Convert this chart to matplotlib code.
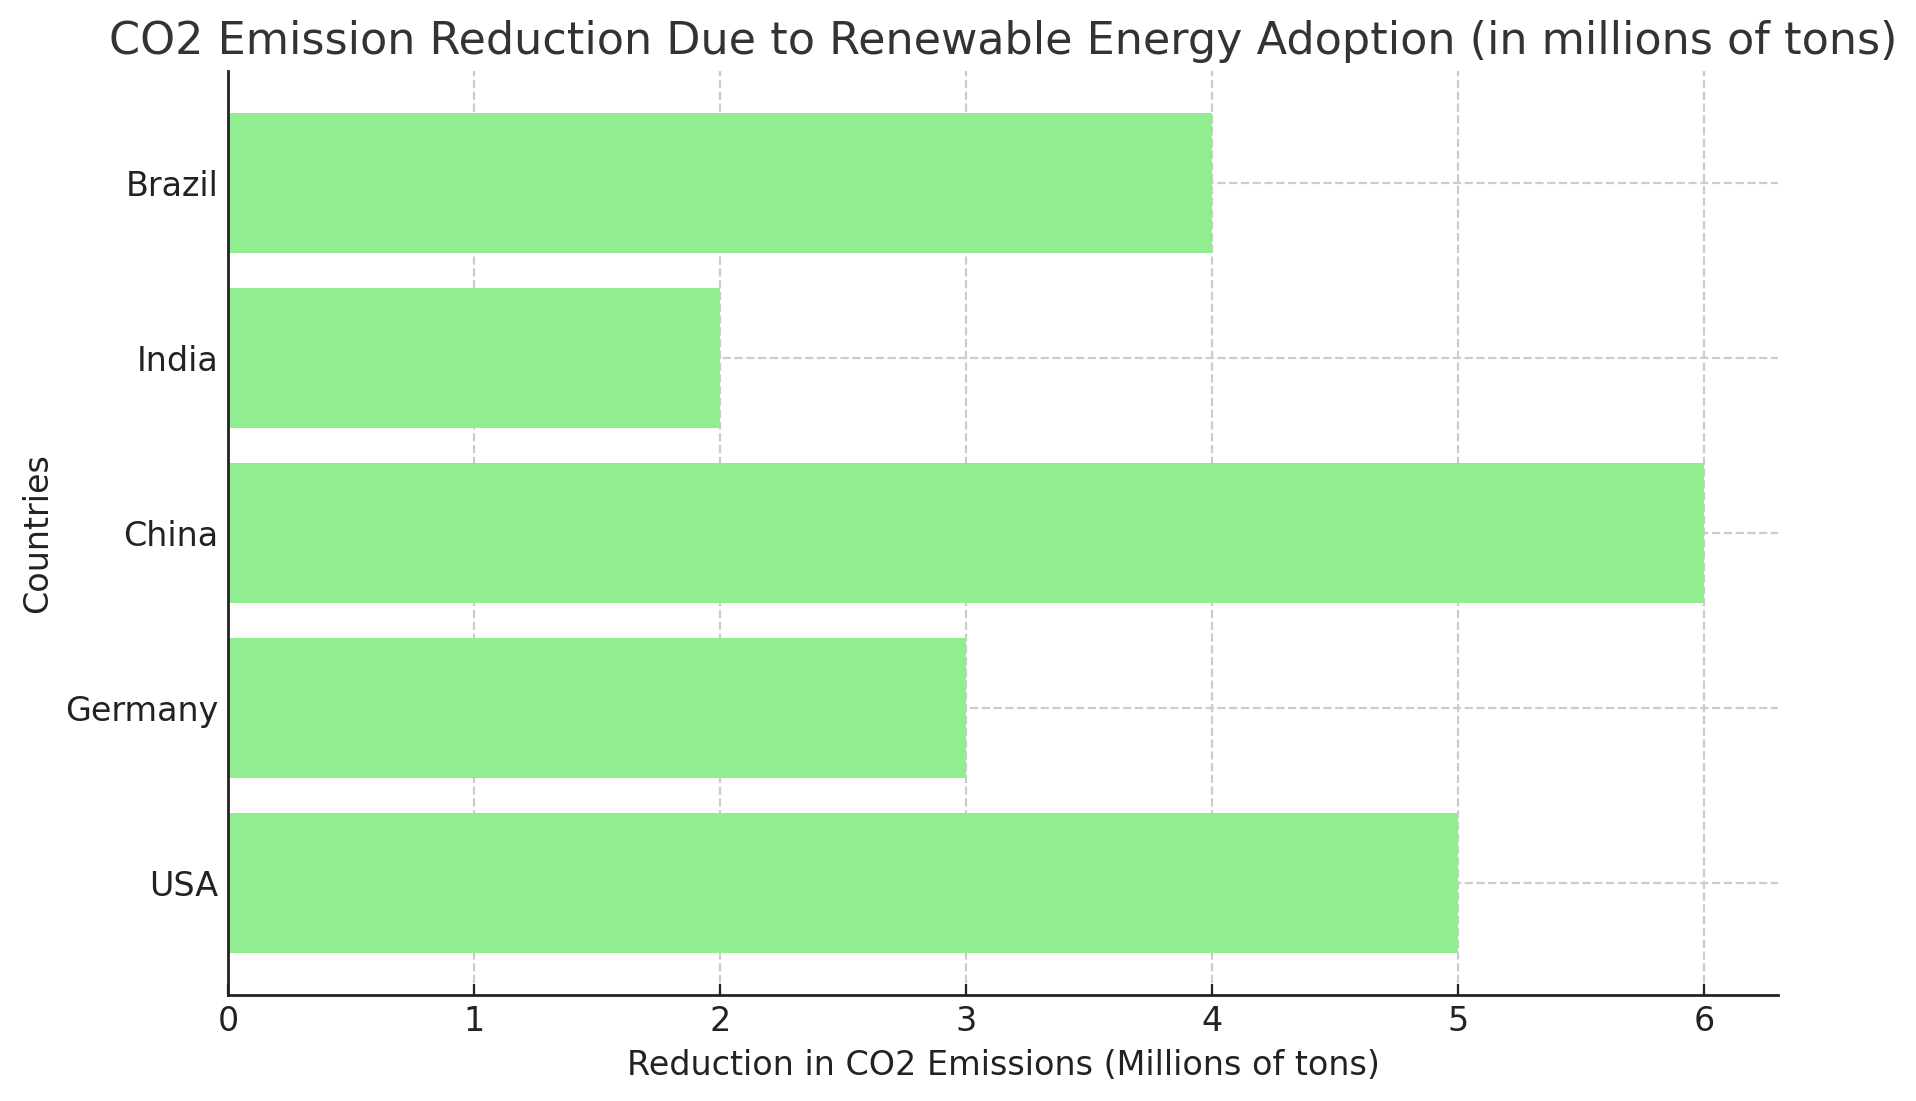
import numpy as np
import matplotlib
matplotlib.use('Agg')
import matplotlib.pyplot as plt

countries = ['USA', 'Germany', 'China', 'India', 'Brazil']
reduction = [5, 3, 6, 2, 4]

fig = plt.figure(figsize=(9.58, 5.505), dpi=200)
ax = fig.add_axes([228 / 1916, 1 - 995 / 1101, (1778 - 228) / 1916, (995 - 71) / 1101])

ax.barh(countries, reduction, color='lightgreen', height=0.8, zorder=2)

ax.set_title('CO2 Emission Reduction Due to Renewable Energy Adoption (in millions of tons)',
             fontsize=16, color='#333333')
ax.set_xlabel('Reduction in CO2 Emissions (Millions of tons)', fontsize=12, color='#222222')
ax.set_ylabel('Countries', fontsize=12, color='#222222')

ax.set_axisbelow(True)
ax.grid(True, linestyle='--', color='#cccccc', linewidth=0.8)
for s in ['top', 'right']:
    ax.spines[s].set_visible(False)
for s in ['left', 'bottom']:
    ax.spines[s].set_linewidth(1.0)
    ax.spines[s].set_color('#222222')
ax.tick_params(direction='in', length=4, labelsize=12, colors='#222222')

fig.savefig('out.png', dpi=200)
